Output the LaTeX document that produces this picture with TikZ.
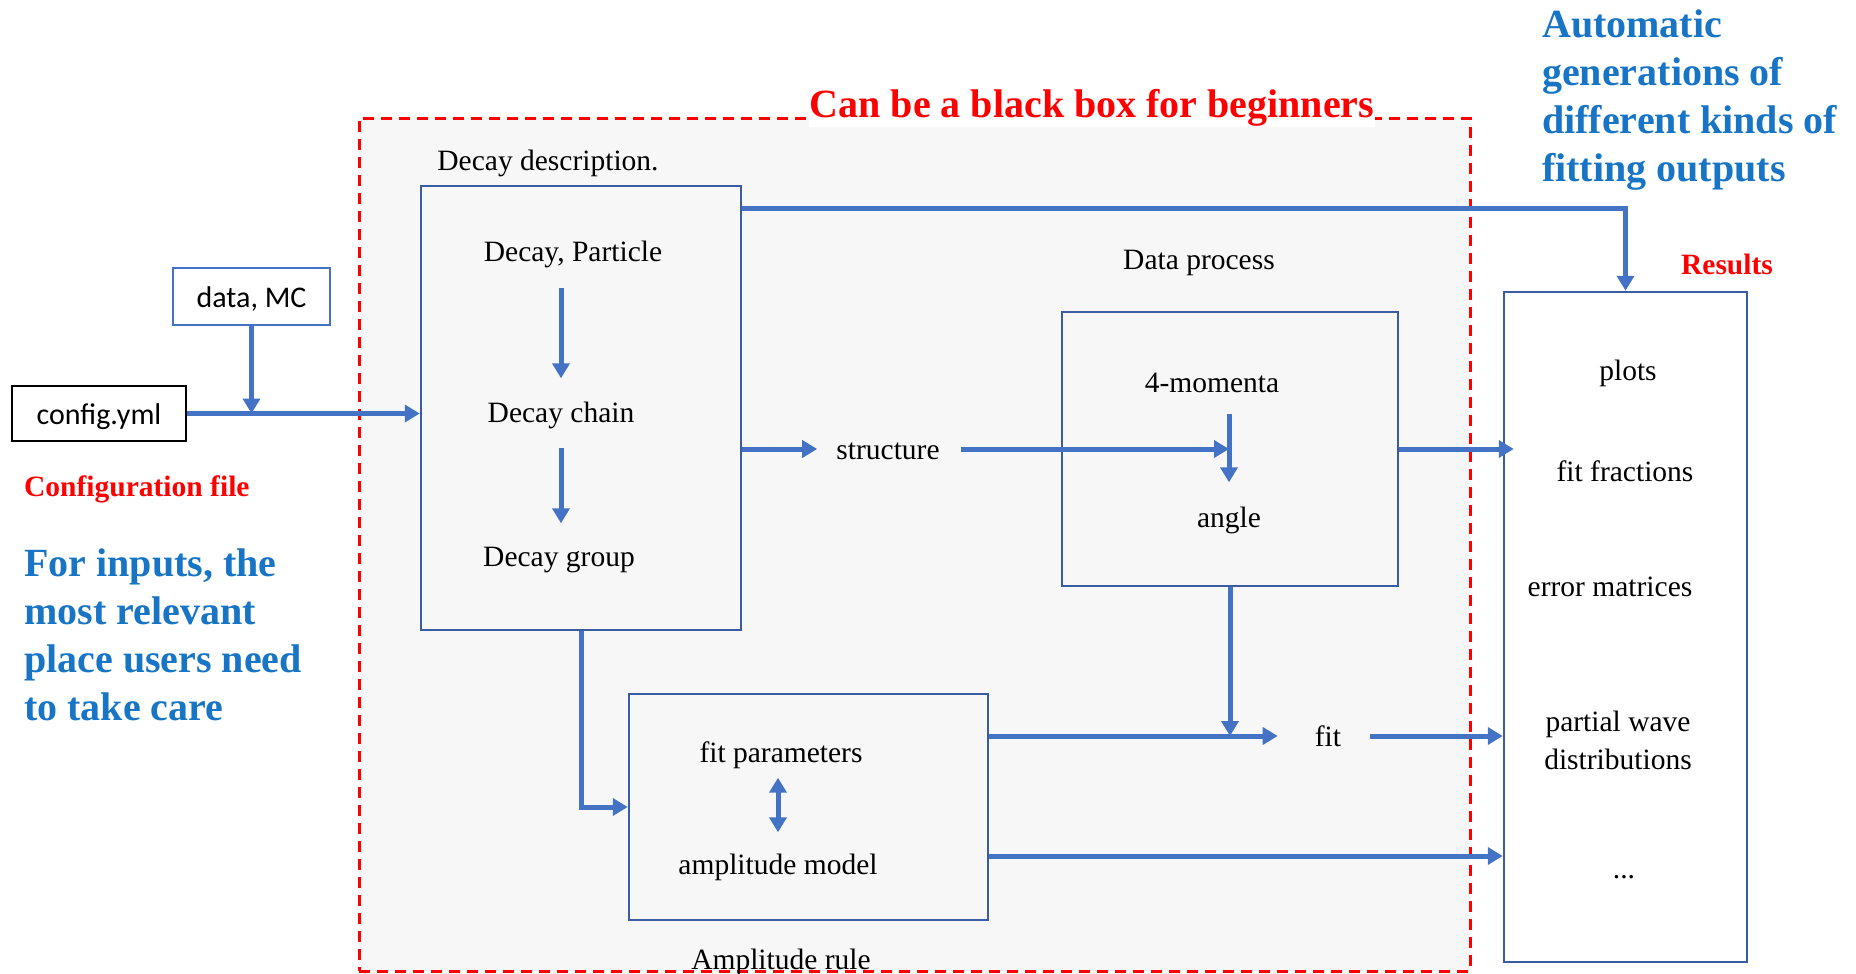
\documentclass[tikz,border=0pt]{standalone}
\usepackage{fontspec}
\setmainfont{Liberation Serif}
\newfontfamily\calib{Carlito}
\usetikzlibrary{arrows.meta,calc}
\definecolor{arrblue}{HTML}{4472C4}
\definecolor{boxblue}{HTML}{3A5CA2}
\definecolor{txtblue}{HTML}{1874C4}
\definecolor{bggray}{HTML}{F7F7F7}
\definecolor{redc}{HTML}{FF0000}
\begin{document}
\begin{tikzpicture}[x=1pt,y=-1pt,
  txt/.style={font=\fontsize{29.5}{35}\selectfont, inner sep=0pt, text height=24pt, text depth=4pt},
  boxs/.style={draw=boxblue, line width=2.5pt},
  sbox/.style={font=\calib\fontsize{30}{36}\selectfont, inner sep=0pt, text height=25pt, text depth=2.5pt},
  redlab/.style={font=\fontsize{29.5}{35}\selectfont\bfseries, text=redc, inner sep=0pt},
  bluetxt/.style={font=\fontsize{40}{48}\selectfont\bfseries, text=txtblue, align=left, inner sep=0pt},
  arr/.style={draw=arrblue, line width=5pt, -{Triangle[length=15pt,width=17pt]}},
  darr/.style={draw=arrblue, line width=5pt, {Triangle[length=15pt,width=17pt]}-{Triangle[length=15pt,width=17pt]}},
  framestyle/.style={draw=redc, line width=3pt, dash pattern=on 11pt off 7pt, fill=bggray}
]
\useasboundingbox (0,0) rectangle (1856,974);

% frame
\node[framestyle, minimum width=1111pt, minimum height=853pt, inner sep=0pt] (frame) at (914.5,544.5) {};
\node[font=\fontsize{40}{48}\selectfont\bfseries, text=redc, anchor=base, fill=white, inner sep=1pt] (title) at (1092,117.5) {Can be a black box for beginners};

% inputs
\node[sbox, draw=black, line width=2.5pt, fill=white, minimum width=174pt, minimum height=55pt] (config) at (99,413.5) {config.yml};
\node[sbox, draw=arrblue, line width=2pt, fill=white, minimum width=157pt, minimum height=57pt] (datamc) at (251.5,296.5) {data, MC};
\node[redlab, anchor=base west] (conflab) at (24,496) {Configuration file};
\node[bluetxt, anchor=north west] (inputs) at (24,549) {For inputs, the\\most relevant\\place users need\\to take care};
\node[bluetxt, anchor=north west] (auto) at (1542,10) {Automatic\\generations of\\different kinds of\\fitting outputs};

% decay box
\node[txt] (ddesc) at (548,160) {Decay description.};
\node[boxs, minimum width=320pt, minimum height=444pt] (decay) at (581,408) {};
\node[txt] (t1) at (573,251) {Decay, Particle};
\node[txt] (t2) at (561,412) {Decay chain};
\node[txt] (t3) at (559,556) {Decay group};

% data process
\node[txt] (dplab) at (1199,259) {Data process};
\node[boxs, minimum width=336pt, minimum height=274pt] (dproc) at (1230,449) {};
\node[txt] (mom) at (1212,382) {4-momenta};
\node[txt] (angle) at (1229,517) {angle};
\node[txt] (struct) at (888,449) {structure};

% amplitude
\node[boxs, minimum width=359pt, minimum height=226pt] (amp) at (808.5,807) {};
\node[txt] (fp) at (781,752) {fit parameters};
\node[txt] (am) at (778,864) {amplitude model};
\node[txt] (arule) at (781,959) {Amplitude rule};
\node[txt] (fit) at (1328,736) {fit};

% results
\node[boxs, fill=white, minimum width=243pt, minimum height=670pt] (res) at (1625.5,627) {};
\node[redlab, anchor=base] (reslab) at (1727,274) {Results};
\node[txt] (r1) at (1628,370) {plots};
\node[txt] (r2) at (1625,471) {fit fractions};
\node[txt] (r3) at (1610,586) {error matrices};
\node[font=\fontsize{29.5}{38}\selectfont, align=center, inner sep=0pt, anchor=north] (r4) at (1618,710.5) {partial wave\\distributions};
\node[txt] (r5) at (1624,868) {...};

% connectors
\draw[arr] (datamc.south) -- (datamc.south |- config.east);
\draw[arr] (config.east) -- (decay.west |- config.east);
\draw[arr, shorten <=22.5pt, shorten >=19.5pt] (t1.south -| t2.south) -- (t2.north);
\draw[arr, shorten <=21.5pt, shorten >=18.5pt] (t2.south) -- (t3.north -| t2.south);
\draw[arr, shorten >=19pt] (decay.east |- struct.west) -- (struct.west);
\draw[arr, shorten <=21pt] (struct.east) -- (struct.east -| angle.north);
\draw[arr, shorten <=17.5pt, shorten >=20.5pt] (mom.south -| angle.north) -- (angle.north);
\draw[arr] (dproc.south) -- (dproc.south |- fit.west);
\draw[arr, shorten >=37pt] (amp.east |- fit.west) -- (fit.west);
\draw[arr, shorten <=29pt] (fit.east) -- (fit.east -| res.west);
\draw[arr] ([yshift=-49pt]amp.east) -- ([yshift=-49pt]amp.east -| res.west);
\draw[arr] (dproc.east) -- ([xshift=11pt]dproc.east -| res.west);
\draw[arr] ([yshift=-24pt]decay.north east) -| (res.north);
\draw[arr] (decay.south) |- (amp.west);
\draw[darr, shorten <=11.5pt, shorten >=17.5pt] (fp.south -| am.north) -- (am.north);
\end{tikzpicture}
\end{document}
